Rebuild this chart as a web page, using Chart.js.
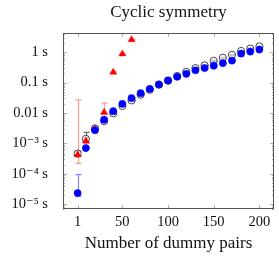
<!DOCTYPE html>
<html>
<head>
<meta charset="utf-8">
<script src="https://cdn.jsdelivr.net/npm/chart.js@4.4.1/dist/chart.umd.min.js"></script>
<style>
  html, body { margin: 0; padding: 0; background: #fff; }
  #wrap { width: 279px; height: 257px; }
</style>
</head>
<body>
<div id="wrap"><canvas id="chart" width="279" height="257"></canvas></div>
<script>
// dummy pairs
const pairs = [1, 10, 20, 30, 40, 50, 60, 70, 80, 90, 100, 110, 120, 130, 140, 150, 160, 170, 180, 190, 200];
const redPairs = [1, 10, 20, 30, 40, 50, 60];

// times in seconds (open circles)
const openTimes = [4.6e-4, 1.4e-3, 3.1e-3, 5.4e-3, 0.0098, 0.017, 0.026, 0.040, 0.058, 0.085, 0.115, 0.165, 0.225, 0.30, 0.37, 0.52, 0.66, 0.82, 1.1, 1.32, 1.55];
const openLow = [3.9e-4, 1.1e-3, 2.8e-3, 5.1e-3, 0.0094, 0.0163, 0.025, 0.0385, 0.056, 0.082, 0.111, 0.16, 0.218, 0.29, 0.357, 0.50, 0.64, 0.79, 1.06, 1.28, 1.5];
const openHigh = [5.6e-4, 2.3e-3, 3.6e-3, 5.8e-3, 0.0102, 0.0177, 0.027, 0.0415, 0.060, 0.088, 0.119, 0.17, 0.232, 0.31, 0.383, 0.54, 0.68, 0.85, 1.14, 1.36, 1.6];

// blue filled circles
const blueTimes = [2.3e-5, 7e-4, 2.7e-3, 6e-3, 0.0115, 0.02, 0.031, 0.045, 0.062, 0.087, 0.118, 0.155, 0.195, 0.255, 0.30, 0.36, 0.44, 0.53, 0.9, 1.05, 1.22];
const blueLow = [1.8e-5, 6.6e-4, 2.55e-3, 5.7e-3, 0.011, 0.019, 0.0297, 0.043, 0.06, 0.084, 0.114, 0.15, 0.19, 0.247, 0.29, 0.35, 0.43, 0.51, 0.87, 1.02, 1.18];
const blueHigh = [9.3e-5, 7.4e-4, 2.85e-3, 6.3e-3, 0.012, 0.021, 0.0323, 0.047, 0.064, 0.09, 0.122, 0.16, 0.2, 0.263, 0.31, 0.37, 0.45, 0.55, 0.93, 1.08, 1.26];

// red triangles
const redTimes = [4.2e-4, 1.2e-3, 3.0e-3, 0.0105, 0.22, 0.88, 2.6];
const redLow = [2.2e-4, 1.0e-3, 2.8e-3, 0.009, 0.21, 0.85, 2.5];
const redHigh = [0.027, 1.5e-3, 3.3e-3, 0.021, 0.23, 0.91, 2.7];

const xTicks = [1, 50, 100, 150, 200];
const yTicks = [1e-5, 1e-4, 1e-3, 0.01, 0.1, 1];
const yTickLabels = ["10⁻⁵ s", "10⁻⁴ s", "10⁻³ s", "0.01 s", "0.1 s", "1 s"];

const chartTitle = "Cyclic symmetry";
const serif = "'Liberation Serif', 'DejaVu Serif', serif";

function toPoints(xs, ys) {
    return xs.map((x, i) => ({ x: x, y: ys[i] }));
}

// error bars drawn with the chart scales
const errorBars = {
    id: "errorBars",
    beforeDatasetsDraw(chart) {
        const { ctx, scales: { x, y } } = chart;
        ctx.save();
        chart.data.datasets.forEach((ds) => {
            if (!ds.errLow) return;
            ctx.strokeStyle = ds.errColor;
            ctx.lineWidth = 1.2;
            ds.data.forEach((p, i) => {
                const px = Math.round(x.getPixelForValue(p.x)) + 0.5;
                const lo = y.getPixelForValue(ds.errLow[i]);
                const hi = y.getPixelForValue(ds.errHigh[i]);
                ctx.beginPath();
                ctx.moveTo(px, lo);
                ctx.lineTo(px, hi);
                ctx.moveTo(px - 3, lo);
                ctx.lineTo(px + 3, lo);
                ctx.moveTo(px - 3, hi);
                ctx.lineTo(px + 3, hi);
                ctx.stroke();
            });
        });
        ctx.restore();
    }
};

// frame, inward ticks on all four sides, title over the plot area
const frameTicks = {
    id: "frameTicks",
    beforeDatasetsDraw(chart) {
        const { ctx, chartArea: a, scales: { x, y } } = chart;
        ctx.save();
        ctx.strokeStyle = "#b0b0b0";
        ctx.lineWidth = 1;
        ctx.beginPath();
        xTicks.forEach((t) => {
            const px = Math.round(x.getPixelForValue(t)) + 0.5;
            ctx.moveTo(px, a.bottom);
            ctx.lineTo(px, a.bottom - 4);
            ctx.moveTo(px, a.top);
            ctx.lineTo(px, a.top + 4);
        });
        for (let e = -6; e <= 1; e++) {
            for (let m = 1; m <= 9; m++) {
                const v = m * Math.pow(10, e);
                if (v < y.min || v > y.max) continue;
                const py = Math.round(y.getPixelForValue(v)) + 0.5;
                const len = m === 1 ? 4 : 2;
                ctx.moveTo(a.left, py);
                ctx.lineTo(a.left + len, py);
                ctx.moveTo(a.right, py);
                ctx.lineTo(a.right - len, py);
            }
        }
        ctx.stroke();
        ctx.strokeStyle = "#555";
        ctx.strokeRect(Math.round(a.left) + 0.5, Math.round(a.top) + 0.5,
            Math.round(a.right - a.left) - 1, Math.round(a.bottom - a.top) - 1);

        ctx.fillStyle = "#111";
        ctx.font = "17px " + serif;
        ctx.textAlign = "center";
        ctx.textBaseline = "middle";
        ctx.fillText(chartTitle, (a.left + a.right) / 2, 13);
        ctx.restore();
    }
};

new Chart(document.getElementById("chart"), {
    type: "scatter",
    data: {
        datasets: [
            {
                label: "blue",
                data: toPoints(pairs, blueTimes),
                errLow: blueLow,
                errHigh: blueHigh,
                errColor: "rgba(50,50,255,0.6)",
                pointStyle: "circle",
                pointRadius: 3.6,
                backgroundColor: "#0000ff",
                borderColor: "#0000ff",
                borderWidth: 0.5,
                order: 0
            },
            {
                label: "red",
                data: toPoints(redPairs, redTimes),
                errLow: redLow,
                errHigh: redHigh,
                errColor: "rgba(255,70,70,0.55)",
                pointStyle: "triangle",
                pointRadius: 4,
                backgroundColor: "#ff0000",
                borderColor: "#ff0000",
                borderWidth: 0.5,
                order: 1
            },
            {
                label: "open",
                data: toPoints(pairs, openTimes),
                errLow: openLow,
                errHigh: openHigh,
                errColor: "rgba(60,60,60,0.75)",
                pointStyle: "circle",
                pointRadius: 3.6,
                backgroundColor: "rgba(255,255,255,0.6)",
                borderColor: "#444",
                borderWidth: 1,
                order: 2
            }
        ]
    },
    options: {
        responsive: false,
        animation: false,
        events: [],
        layout: { padding: { left: 0, right: 2, top: 33, bottom: 0 } },
        plugins: {
            legend: { display: false },
            tooltip: { enabled: false },
            title: { display: false }
        },
        scales: {
            x: {
                type: "linear",
                min: -15,
                max: 216,
                afterBuildTicks: (s) => { s.ticks = xTicks.map((v) => ({ value: v })); },
                afterFit: (s) => { s.height = 48; },
                grid: { display: false, drawTicks: false },
                border: { display: false },
                ticks: {
                    color: "#111",
                    padding: 4,
                    maxRotation: 0,
                    font: { family: serif, size: 14.5 },
                    callback: (v) => v
                },
                title: {
                    display: true,
                    text: "Number of dummy pairs",
                    color: "#111",
                    padding: { top: 3, bottom: 3 },
                    font: { family: serif, size: 17 }
                }
            },
            y: {
                type: "logarithmic",
                min: 6.9e-6,
                max: 4.3,
                afterBuildTicks: (s) => { s.ticks = yTicks.map((v) => ({ value: v })); },
                afterFit: (s) => { s.width = 63; },
                grid: { display: false },
                border: { display: false },
                ticks: {
                    color: "#111",
                    padding: 7,
                    font: { family: serif, size: 14.5 },
                    callback: (v) => {
                        const i = yTicks.findIndex((t) => Math.abs(t - v) / t < 1e-6);
                        return i >= 0 ? yTickLabels[i] : "";
                    }
                }
            }
        }
    },
    plugins: [errorBars, frameTicks]
});
</script>
</body>
</html>
